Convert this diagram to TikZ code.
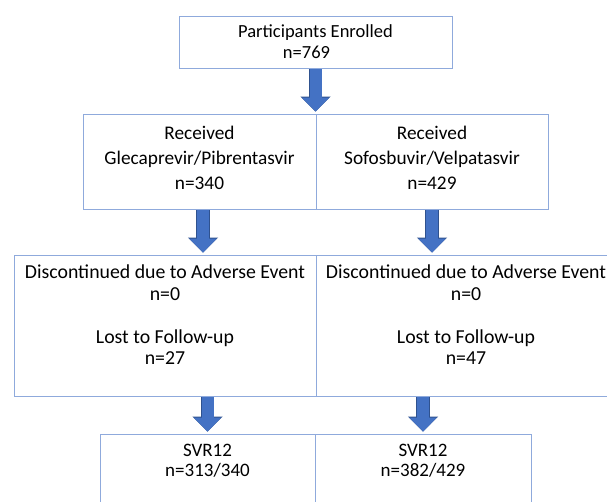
\documentclass[tikz,border=0pt]{standalone}
\usepackage{fontspec}
\setmainfont{Carlito}
\usetikzlibrary{arrows.meta}
\definecolor{boxline}{HTML}{8FAADC}
\definecolor{arrowfill}{HTML}{4472C4}
\definecolor{arrowedge}{HTML}{2F528F}

\begin{document}
\begin{tikzpicture}[x=1pt,y=1pt,
	box/.style={draw=boxline,line width=0.9pt,align=center,inner sep=0pt,
		font=\fontsize{18.5}{21}\selectfont},
	downarrow/.style={draw=arrowfill,line width=12pt,shorten <=1pt,shorten >=2pt,
		-{Triangle[width=27pt,length=14pt]},
		preaction={draw=arrowedge,line width=13.5pt,-{Triangle[width=29.5pt,length=15pt]}}}]
		\useasboundingbox (0,0) rectangle (607,-502);
		\clip (0,0) rectangle (607,-502);
		\node[box,minimum width=273,minimum height=52] (enrolled) at (315.5,-42)
			{Participants Enrolled\\n=769\hspace*{18pt}};
		\node[box,minimum width=233,minimum height=95,font=\fontsize{19.3}{25}\selectfont] (recG) at (199.5,-161.5)
			{Received\\Glecaprevir/Pibrentasvir\\n=340\\[-17pt]};
		\node[box,minimum width=232,minimum height=95,font=\fontsize{19.3}{25}\selectfont] (recS) at (432,-161.5)
			{Received\\Sofosbuvir/Velpatasvir\\n=429\\[-17pt]};
		\node[box,minimum width=302,minimum height=141,font=\fontsize{19.8}{21.5}\selectfont] (disG) at (165,-325.5)
			{Discontinued due to Adverse Event\\n=0\\[21.5pt]Lost to Follow-up\\n=27\\[0pt]};
		\node[box,minimum width=300,minimum height=141,font=\fontsize{19.8}{21.5}\selectfont] (disS) at (466,-325.5)
			{Discontinued due to Adverse Event\\n=0\\[21.5pt]Lost to Follow-up\\n=47\\[0pt]};
		\node[box,minimum width=215,minimum height=94,font=\fontsize{19}{20.5}\selectfont] (svrG) at (207.5,-481)
			{SVR12\\n=313/340\\[20.5pt]};
		\node[box,minimum width=216,minimum height=94,font=\fontsize{19}{20.5}\selectfont] (svrS) at (423,-481)
			{SVR12\\n=382/429\\[20.5pt]};
		\draw[downarrow] (enrolled.south) -- (enrolled.south |- recG.north);
		\draw[downarrow] ([xshift=3.5pt]recG.south) -- ([xshift=3.5pt]recG.south |- disG.north);
		\draw[downarrow] (recS.south) -- (recS.south |- disS.north);
		\draw[downarrow] (svrG.north |- disG.south) -- (svrG.north);
		\draw[downarrow] (svrS.north |- disS.south) -- (svrS.north);
	\end{tikzpicture}
\end{document}
